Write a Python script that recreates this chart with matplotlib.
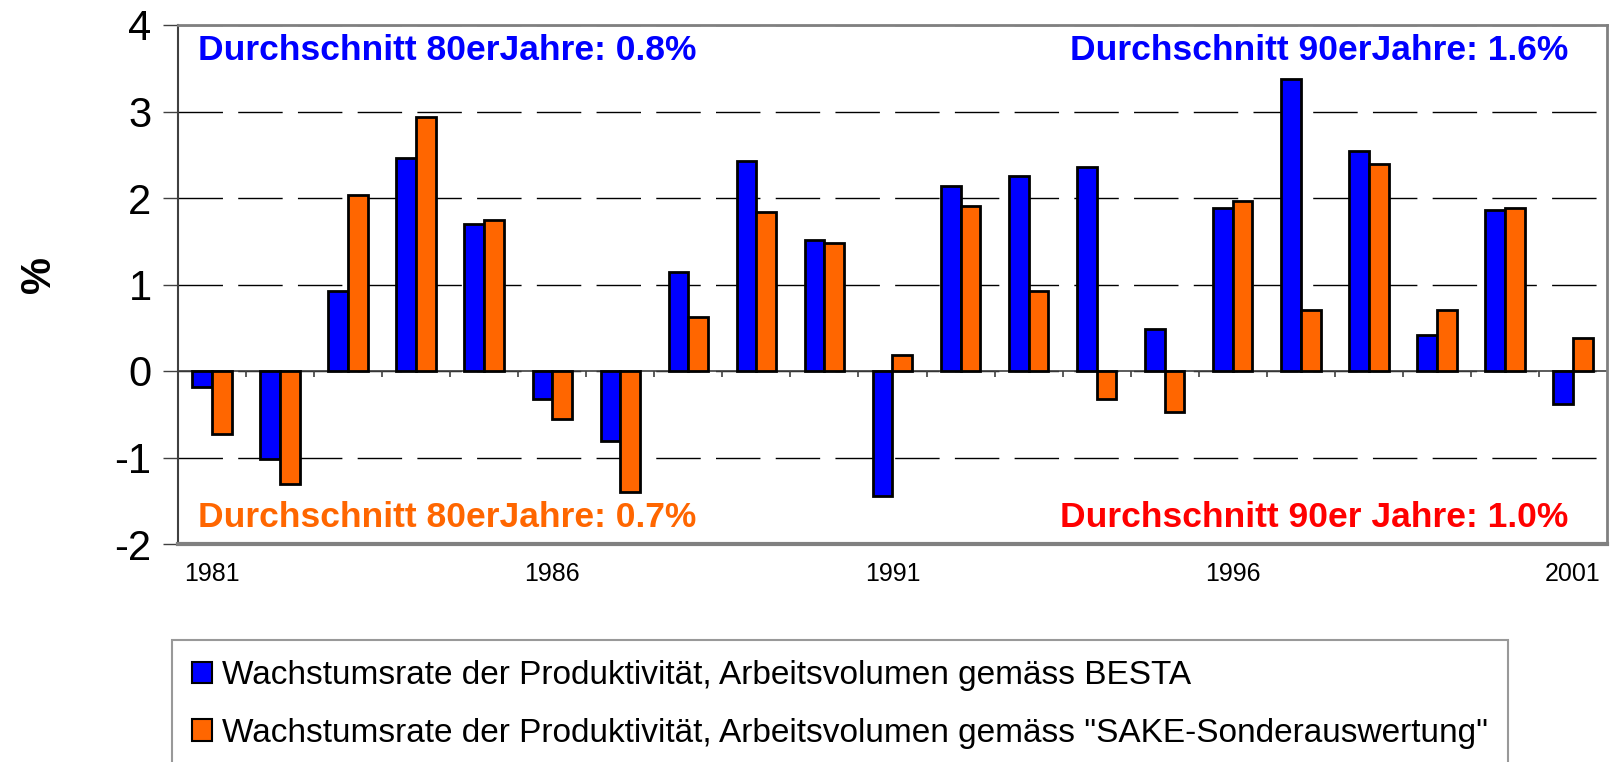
import numpy as np
import matplotlib.pyplot as plt
from matplotlib.patches import Patch

years = list(range(1981, 2002))
besta = [-0.18, -1.02, 0.92, 2.46, 1.70, -0.32, -0.81, 1.14, 2.43, 1.52, -1.45,
         2.14, 2.25, 2.36, 0.49, 1.89, 3.38, 2.54, 0.42, 1.86, -0.38]
sake = [-0.73, -1.31, 2.03, 2.94, 1.74, -0.55, -1.40, 0.63, 1.84, 1.48, 0.19,
        1.91, 0.93, -0.32, -0.47, 1.96, 0.71, 2.39, 0.71, 1.89, 0.38]
year_labels = ["1981", "1986", "1991", "1996", "2001"]
label_idx = [0, 5, 10, 15, 20]
yticks = [-2, -1, 0, 1, 2, 3, 4]
series_names = ["Wachstumsrate der Produktivität, Arbeitsvolumen gemäss BESTA",
                "Wachstumsrate der Produktivität, Arbeitsvolumen gemäss \"SAKE-Sonderauswertung\""]
notes = ["Durchschnitt 80erJahre: 0.8%", "Durchschnitt 90erJahre: 1.6%",
         "Durchschnitt 80erJahre: 0.7%", "Durchschnitt 90er Jahre: 1.0%"]

blue = "#0000FF"
orange = "#FF6600"
red = "#FF0000"

plt.rcParams['font.family'] = ['Liberation Sans', 'DejaVu Sans']

fig = plt.figure(figsize=(16.12, 7.62), dpi=100)
ax = fig.add_axes([178/1612, 1-544/762, 1429/1612, 519/762])

x = np.arange(len(years))
w = 0.29
ax.bar(x - w/2, besta, w, color=blue, edgecolor="black", linewidth=2, zorder=3)
ax.bar(x + w/2, sake, w, color=orange, edgecolor="black", linewidth=2, zorder=3)

ax.set_xlim(-0.5, len(years) - 0.5)
ax.set_ylim(-2, 4)
ax.set_yticks(yticks)
ax.set_yticklabels([str(v) for v in yticks], fontsize=30)
ax.tick_params(axis="y", length=11, width=1, color="#404040", pad=8)

ax.set_xticks(x[label_idx])
ax.set_xticklabels(year_labels, fontsize=18)
ax.tick_params(axis="x", length=0, pad=13)

ax.yaxis.grid(True, color="black", linewidth=1, linestyle=(0, (32, 11)), zorder=0)
ax.set_axisbelow(True)

# zero line with small category separators
ax.axhline(0, color="#404040", linewidth=1.2, zorder=2)
ax.vlines(x[:-1] + 0.5, -0.07, 0, color="#404040", linewidth=1.2, zorder=2)

for s in ["top", "right"]:
    ax.spines[s].set_color("#808080")
    ax.spines[s].set_linewidth(2)
ax.spines["bottom"].set_color("#808080")
ax.spines["bottom"].set_linewidth(3)
ax.spines["left"].set_color("#404040")
ax.spines["left"].set_linewidth(1.5)

ax.set_ylabel("%", fontsize=30, fontweight="bold")
ax.yaxis.set_label_coords(-0.083, 0.52)

ax.text(0.014, 0.932, notes[0], transform=ax.transAxes, color=blue,
        fontsize=25.5, fontweight="bold", va="baseline", ha="left")
ax.text(0.973, 0.932, notes[1], transform=ax.transAxes, color=blue,
        fontsize=25.5, fontweight="bold", va="baseline", ha="right")
ax.text(0.014, 0.033, notes[2], transform=ax.transAxes, color=orange,
        fontsize=25.5, fontweight="bold", va="baseline", ha="left")
ax.text(0.973, 0.033, notes[3], transform=ax.transAxes, color=red,
        fontsize=25.5, fontweight="bold", va="baseline", ha="right")

handles = [Patch(facecolor=blue, edgecolor="black", linewidth=1.5),
           Patch(facecolor=orange, edgecolor="black", linewidth=1.5)]
leg = fig.legend(handles, series_names, loc="upper left",
                 bbox_to_anchor=(172/1612, 1-640/762), fontsize=24,
                 handlelength=0.6, handleheight=0.6, handletextpad=0.3,
                 labelspacing=0.8, borderpad=0.6, borderaxespad=0,
                 fancybox=False, frameon=True)
leg.get_frame().set_edgecolor("#808080")
leg.get_frame().set_linewidth(1.5)

plt.savefig("out.png", dpi=100)
